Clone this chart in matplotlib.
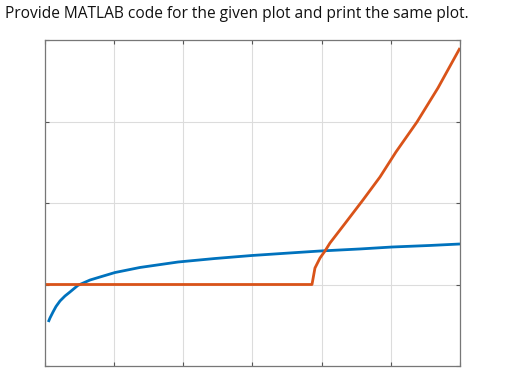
import matplotlib
matplotlib.use("Agg")
import matplotlib.pyplot as plt

# values (x: 0..6, y: -1..3)
blue_x = [0.048, 0.072, 0.116, 0.159, 0.217, 0.289, 0.361, 0.477, 0.651, 0.795, 1.012,
          1.373, 1.923, 2.458, 2.993, 3.542, 3.976, 4.554, 5.017, 5.566, 6.0]
blue_y = [-0.460, -0.411, -0.337, -0.270, -0.202, -0.141, -0.092, -0.010, 0.055, 0.092, 0.147,
          0.209, 0.276, 0.319, 0.356, 0.387, 0.411, 0.436, 0.460, 0.479, 0.497]

orange_x = [0.0, 3.860, 3.903, 3.976, 4.048, 4.120, 4.337, 4.597, 4.843, 5.074, 5.378, 5.681, 6.0]
orange_y = [0.0, 0.0, 0.202, 0.325, 0.411, 0.509, 0.748, 1.037, 1.319, 1.626, 1.994, 2.411, 2.902]

title = "Provide MATLAB code for the given plot and print the same plot."

fig = plt.figure(figsize=(5.05, 3.71), dpi=100)
fig.text(5 / 505, 1 - 14 / 371, title, ha="left", va="center",
         fontsize=11.2, family="Open Sans", color="#111111")

ax = fig.add_axes([45 / 505, 5 / 371, 415 / 505, 326 / 371])
ax.plot(blue_x, blue_y, color="#0072BD", lw=2.0, solid_capstyle="butt", solid_joinstyle="round")
ax.plot(orange_x, orange_y, color="#D95319", lw=2.0, solid_capstyle="butt", solid_joinstyle="round")

ax.set_xlim(0, 6)
ax.set_ylim(-1, 3)
ax.set_xticks(range(0, 7))
ax.set_yticks(range(-1, 4))
ax.set_xticklabels([])
ax.set_yticklabels([])
ax.tick_params(direction="in", length=3, width=0.8, color="#555555",
               top=True, right=True)
ax.grid(True, color="#dcdcdc", lw=0.8)
ax.set_axisbelow(True)
for s in ax.spines.values():
    s.set_color("#777777")
    s.set_linewidth(0.9)

fig.savefig("out.png", dpi=100)
